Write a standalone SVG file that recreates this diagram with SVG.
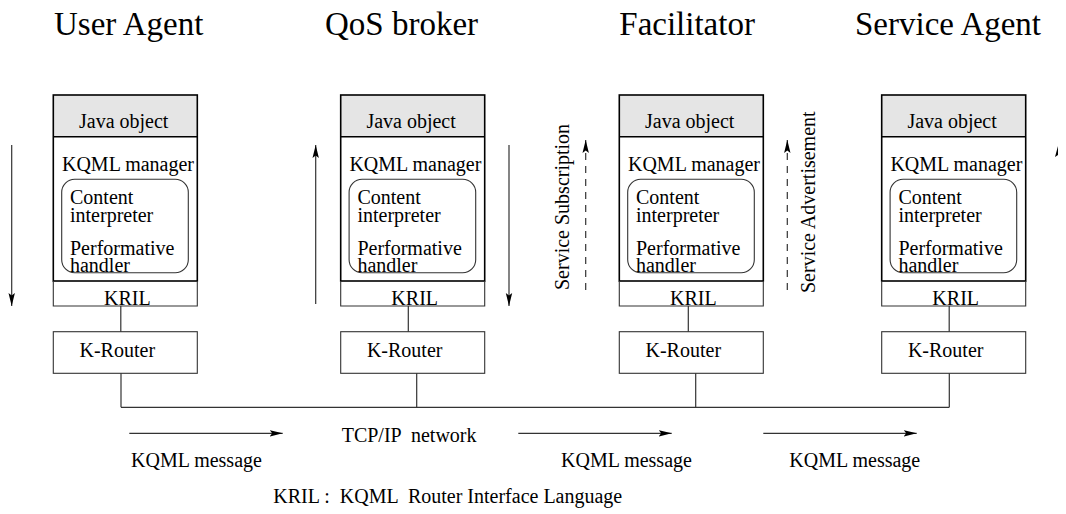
<svg xmlns="http://www.w3.org/2000/svg" width="1066" height="514" viewBox="0 0 1066 514">
<defs>
<style>
text{font-family:"Liberation Serif","Times New Roman",serif;fill:#000}
.title{font-size:33px}
.t{font-size:20px}
.box{fill:none;stroke:#000;stroke-width:1.6}
.thin{fill:none;stroke:#333;stroke-width:1.1}
.java{fill:#e5e5e5;stroke:none}
.line{fill:none;stroke:#333;stroke-width:1.2}
.dash{fill:none;stroke:#333;stroke-width:1.2;stroke-dasharray:7 6}
</style>
<marker id="ah" markerUnits="userSpaceOnUse" markerWidth="14" markerHeight="8" refX="13" refY="4" orient="auto">
<path d="M0,0.8 L13,4 L0,7.2 L2.5,4 Z" fill="#000"/>
</marker>
<g id="agentbox">
<rect class="java" x="0" y="95" width="144" height="41.7"/>
<rect class="box" x="0" y="95" width="144" height="186"/>
<line class="box" x1="0" y1="136.7" x2="144" y2="136.7"/>
<path class="thin" d="M0,281 V306 H144 V281"/>
<rect class="thin" x="8.4" y="179.3" width="126.6" height="93.4" rx="13"/>
<text class="t" x="70.4" y="128.3" text-anchor="middle">Java object</text>
<text class="t" x="8.7" y="170.7">KQML manager</text>
<text class="t" x="16.7" y="204">Content</text>
<text class="t" x="16.7" y="221.7">interpreter</text>
<text class="t" x="16.7" y="255">Performative</text>
<text class="t" x="16.7" y="271.7">handler</text>
<text class="t" x="74" y="305" text-anchor="middle">KRIL</text>
<rect class="thin" x="0" y="331.7" width="144" height="41.6"/>
<text class="t" x="64" y="356.7" text-anchor="middle">K-Router</text>
</g>
</defs>

<g id="titles">
<text class="title" x="54" y="35">User Agent</text>
<text class="title" x="325" y="35">QoS broker</text>
<text class="title" x="619.3" y="35">Facilitator</text>
<text class="title" x="855" y="35">Service Agent</text>
</g>

<g id="user-agent"><use href="#agentbox" x="53.3"/></g>
<g id="qos-broker"><use href="#agentbox" x="340.7"/></g>
<g id="facilitator"><use href="#agentbox" x="619.3"/></g>
<g id="service-agent"><use href="#agentbox" x="881.7"/></g>

<g id="connectors">
<line class="line" x1="120.8" y1="306" x2="120.8" y2="331.7"/>
<line class="line" x1="408.3" y1="306" x2="408.3" y2="331.7"/>
<line class="line" x1="688.3" y1="306" x2="688.3" y2="331.7"/>
<line class="line" x1="949.2" y1="306" x2="949.2" y2="331.7"/>
<line class="line" x1="121" y1="373.3" x2="121" y2="407.3"/>
<line class="line" x1="416.7" y1="373.3" x2="416.7" y2="407.3"/>
<line class="line" x1="695.7" y1="373.3" x2="695.7" y2="407.3"/>
<line class="line" x1="949.3" y1="373.3" x2="949.3" y2="407.3"/>
<path class="line" d="M121,407.3 H949.3"/>
<line class="line" x1="11.7" y1="145" x2="11.7" y2="306" marker-end="url(#ah)"/>
<line class="line" x1="315.7" y1="304" x2="315.7" y2="145" marker-end="url(#ah)"/>
<line class="line" x1="509" y1="145" x2="509" y2="306" marker-end="url(#ah)"/>
<line class="dash" x1="585.7" y1="290" x2="585.7" y2="140" marker-end="url(#ah)"/>
<line class="dash" x1="787.3" y1="290" x2="787.3" y2="140" marker-end="url(#ah)"/>
<path d="M1058,146 L1055,157 L1058,155 Z" fill="#000"/>
<line class="line" x1="129.3" y1="433.3" x2="282.7" y2="433.3" marker-end="url(#ah)"/>
<line class="line" x1="518.3" y1="433.3" x2="671.7" y2="433.3" marker-end="url(#ah)"/>
<line class="line" x1="763.3" y1="433.3" x2="916.7" y2="433.3" marker-end="url(#ah)"/>
</g>

<g id="labels">
<text class="t" transform="translate(569,290) rotate(-90)">Service Subscription</text>
<text class="t" transform="translate(815,293) rotate(-90)">Service Advertisement</text>
<text class="t" x="341.7" y="441.7" xml:space="preserve">TCP/IP  network</text>
<text class="t" x="131" y="467">KQML message</text>
<text class="t" x="561" y="467">KQML message</text>
<text class="t" x="789.3" y="467">KQML message</text>
<text class="t" x="273.3" y="503.3" xml:space="preserve">KRIL :  KQML  Router Interface Language</text>
</g>
</svg>
